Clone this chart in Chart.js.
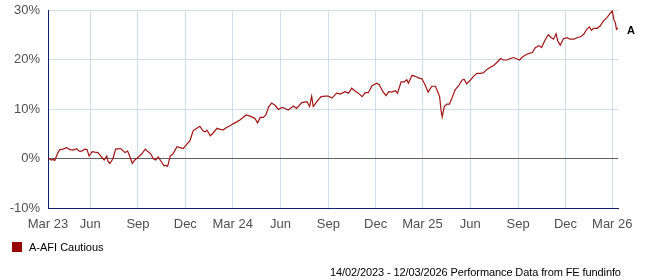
<!DOCTYPE html>
<html>
<head>
<meta charset="utf-8">
<script src="https://cdn.jsdelivr.net/npm/chart.js@4.4.1/dist/chart.umd.min.js"></script>
<style>
  body { margin: 0; background: #fff; }
  #wrap { position: relative; width: 647px; height: 280px; font-family: "Liberation Sans", Arial, sans-serif; }
  #legend { position: absolute; left: 12px; top: 241px; font-size: 11px; color: #000; display: flex; align-items: center; }
  #legend .box { width: 10px; height: 10px; background: #990000; margin-right: 7px; }
  #footer { position: absolute; left: 330px; top: 266px; font-size: 11px; color: #000; letter-spacing: -0.1px; white-space: nowrap; }
</style>
</head>
<body>
<div id="wrap">
  <canvas id="perfChart" width="647" height="280"></canvas>
  <div id="legend"><span class="box"></span>A-AFI Cautious</div>
  <div id="footer">14/02/2023 - 12/03/2026 Performance Data from FE fundinfo</div>
</div>
<script>
/* ---- data ---- */
const startDate = '2023-03-12';
const endDate = '2026-03-12';

// days after startDate, and cumulative performance (%)
const dayOffsets = [0, 2, 6, 10, 13, 19, 23, 29, 36, 42, 48, 55, 60, 65, 71, 75, 79, 85, 90, 96,
    103, 108, 113, 115, 119, 125, 130, 139, 142, 148, 153, 158, 162, 167, 174, 180, 187, 192, 198, 202,
    207, 212, 217, 223, 227, 230, 235, 240, 248, 254, 260, 267, 273, 276, 279, 286, 292, 298, 302, 306,
    312, 317, 325, 331, 337, 344, 350, 356, 363, 369, 375, 381, 387, 394, 398, 403, 408, 414, 419, 424,
    430, 437, 443, 450, 456, 462, 472, 478, 488, 498, 503, 507, 510, 517, 525, 533, 539, 546, 555, 562,
    571, 578, 584, 591, 597, 604, 610, 616, 623, 632, 637, 644, 650, 655, 661, 668, 672, 679, 685, 690,
    693, 700, 706, 712, 719, 725, 731, 738, 745, 749, 753, 756, 758, 762, 767, 772, 777, 783, 789, 796,
    800, 805, 812, 818, 825, 831, 837, 844, 850, 857, 863, 870, 876, 882, 889, 895, 902, 907, 911, 918,
    924, 931, 937, 944, 949, 955, 962, 968, 972, 977, 980, 985, 991, 998, 1004, 1011, 1017, 1024, 1030, 1036,
    1041, 1045, 1049, 1056, 1062, 1068, 1075, 1081, 1085, 1088, 1091, 1093, 1096];
const fundValues = [0.0, 0.0, -0.3, -0.2, -0.4, 1.2, 1.8, 1.9, 2.2, 1.8, 1.7, 2.0, 1.5, 1.5, 1.9, 1.8, 0.5, 1.4, 1.3, 1.2,
    0.3, -0.3, 0.5, -0.5, -1.0, 0.0, 1.9, 2.0, 1.8, 1.2, 1.5, 0.2, -1.0, -0.3, 0.3, 0.9, 1.9, 1.4, 0.9, 0.0,
    -0.3, 0.3, -0.5, -1.5, -1.4, -1.6, 0.5, 0.9, 2.4, 2.2, 2.0, 2.9, 3.6, 4.6, 5.6, 6.1, 6.5, 5.6, 5.4, 5.7,
    4.6, 5.1, 6.1, 5.9, 5.8, 6.3, 6.6, 7.0, 7.4, 7.8, 8.3, 8.8, 8.6, 8.3, 8.1, 7.2, 8.3, 8.3, 8.8, 10.4,
    11.2, 10.7, 9.9, 10.3, 10.1, 9.8, 10.6, 10.1, 11.3, 11.5, 10.5, 12.6, 10.5, 11.5, 12.5, 12.6, 12.6, 12.2, 13.2, 13.0,
    13.5, 13.2, 14.2, 13.6, 13.2, 12.5, 13.3, 13.3, 14.7, 15.2, 14.9, 13.5, 12.7, 13.5, 13.4, 13.7, 13.2, 15.5, 15.5, 15.9,
    15.2, 16.8, 16.6, 16.3, 16.1, 14.9, 13.4, 14.6, 14.6, 13.6, 12.5, 9.5, 8.4, 10.5, 11.0, 11.0, 12.3, 13.9, 14.6, 15.8,
    16.0, 15.1, 15.8, 16.6, 17.2, 17.2, 17.3, 18.0, 18.4, 18.8, 19.4, 20.2, 19.9, 19.9, 20.2, 20.4, 20.1, 19.9, 20.4, 20.9,
    21.2, 21.4, 22.4, 22.8, 22.4, 23.8, 25.0, 24.4, 24.1, 25.2, 23.8, 22.9, 24.2, 24.4, 24.1, 24.1, 24.4, 24.6, 25.1, 26.1,
    26.6, 25.9, 26.3, 26.3, 26.8, 27.8, 28.5, 29.3, 29.8, 28.1, 27.4, 26.1, 26.4];

const tickDates = ['2023-03-12', '2023-06-01', '2023-09-01', '2023-12-01', '2024-03-01', '2024-06-01', '2024-09-01',
    '2024-12-01', '2025-03-01', '2025-06-01', '2025-09-01', '2025-12-01', '2026-03-01'];
const tickLabels = ['Mar 23', 'Jun', 'Sep', 'Dec', 'Mar 24', 'Jun', 'Sep', 'Dec', 'Mar 25', 'Jun', 'Sep', 'Dec', 'Mar 26'];
const yTicks = [-10, 0, 10, 20, 30];
const seriesName = 'A-AFI Cautious';
const endLabel = 'A';

/* ---- helpers ---- */
function dayOf(s) {
    const p = s.split('-').map(Number);
    const b = startDate.split('-').map(Number);
    return Math.round((Date.UTC(p[0], p[1] - 1, p[2]) - Date.UTC(b[0], b[1] - 1, b[2])) / 86400000);
}
const tickDays = tickDates.map(dayOf);

const endLabelPlugin = {
    id: 'endLabel',
    afterDatasetsDraw(chart) {
        const meta = chart.getDatasetMeta(0);
        const last = meta.data[meta.data.length - 1];
        const c = chart.ctx;
        c.save();
        c.font = 'bold 11px "Liberation Sans", Arial, sans-serif';
        c.fillStyle = '#000';
        c.textBaseline = 'middle';
        c.fillText(endLabel, chart.chartArea.right + 9, last.y + 3);
        c.restore();
    }
};

Chart.defaults.font.family = '"Liberation Sans", Arial, sans-serif';

new Chart(document.getElementById('perfChart'), {
    type: 'line',
    data: {
        datasets: [{
            label: seriesName,
            data: dayOffsets.map((d, i) => ({ x: d, y: fundValues[i] })),
            borderColor: '#a31515',
            borderWidth: 1.2,
            pointRadius: 0,
            tension: 0,
            fill: false,
        }],
    },
    options: {
        responsive: false,
        animation: false,
        layout: { padding: { top: 10, right: 29, left: 0, bottom: 0 } },
        plugins: { legend: { display: false }, tooltip: { enabled: false } },
        scales: {
            x: {
                type: 'linear',
                min: 0,
                max: dayOf(endDate),
                afterBuildTicks: axis => { axis.ticks = tickDays.map(v => ({ value: v })); },
                afterFit: axis => { axis.height = 72; axis.paddingLeft = 0; axis.paddingRight = 0; },
                grid: { color: '#cfdfea', drawTicks: false },
                border: { color: '#0a1f6e', width: 1 },
                ticks: {
                    autoSkip: false,
                    maxRotation: 0,
                    padding: 9,
                    color: '#505050',
                    font: { size: 13 },
                    callback: (v) => tickLabels[tickDays.indexOf(v)] || '',
                },
            },
            y: {
                min: -10,
                max: 30,
                afterBuildTicks: axis => { axis.ticks = yTicks.map(v => ({ value: v })); },
                afterFit: axis => { axis.width = 48; axis.paddingTop = 0; axis.paddingBottom = 0; },
                grid: {
                    color: c => c.tick && c.tick.value === 0 ? '#606060' : '#cfdfea',
                    drawTicks: false,
                },
                border: { color: '#0a1f6e', width: 1 },
                ticks: {
                    padding: 8,
                    color: '#505050',
                    font: { size: 13 },
                    callback: v => v + '%',
                },
            },
        },
    },
    plugins: [endLabelPlugin],
});
</script>
</body>
</html>
